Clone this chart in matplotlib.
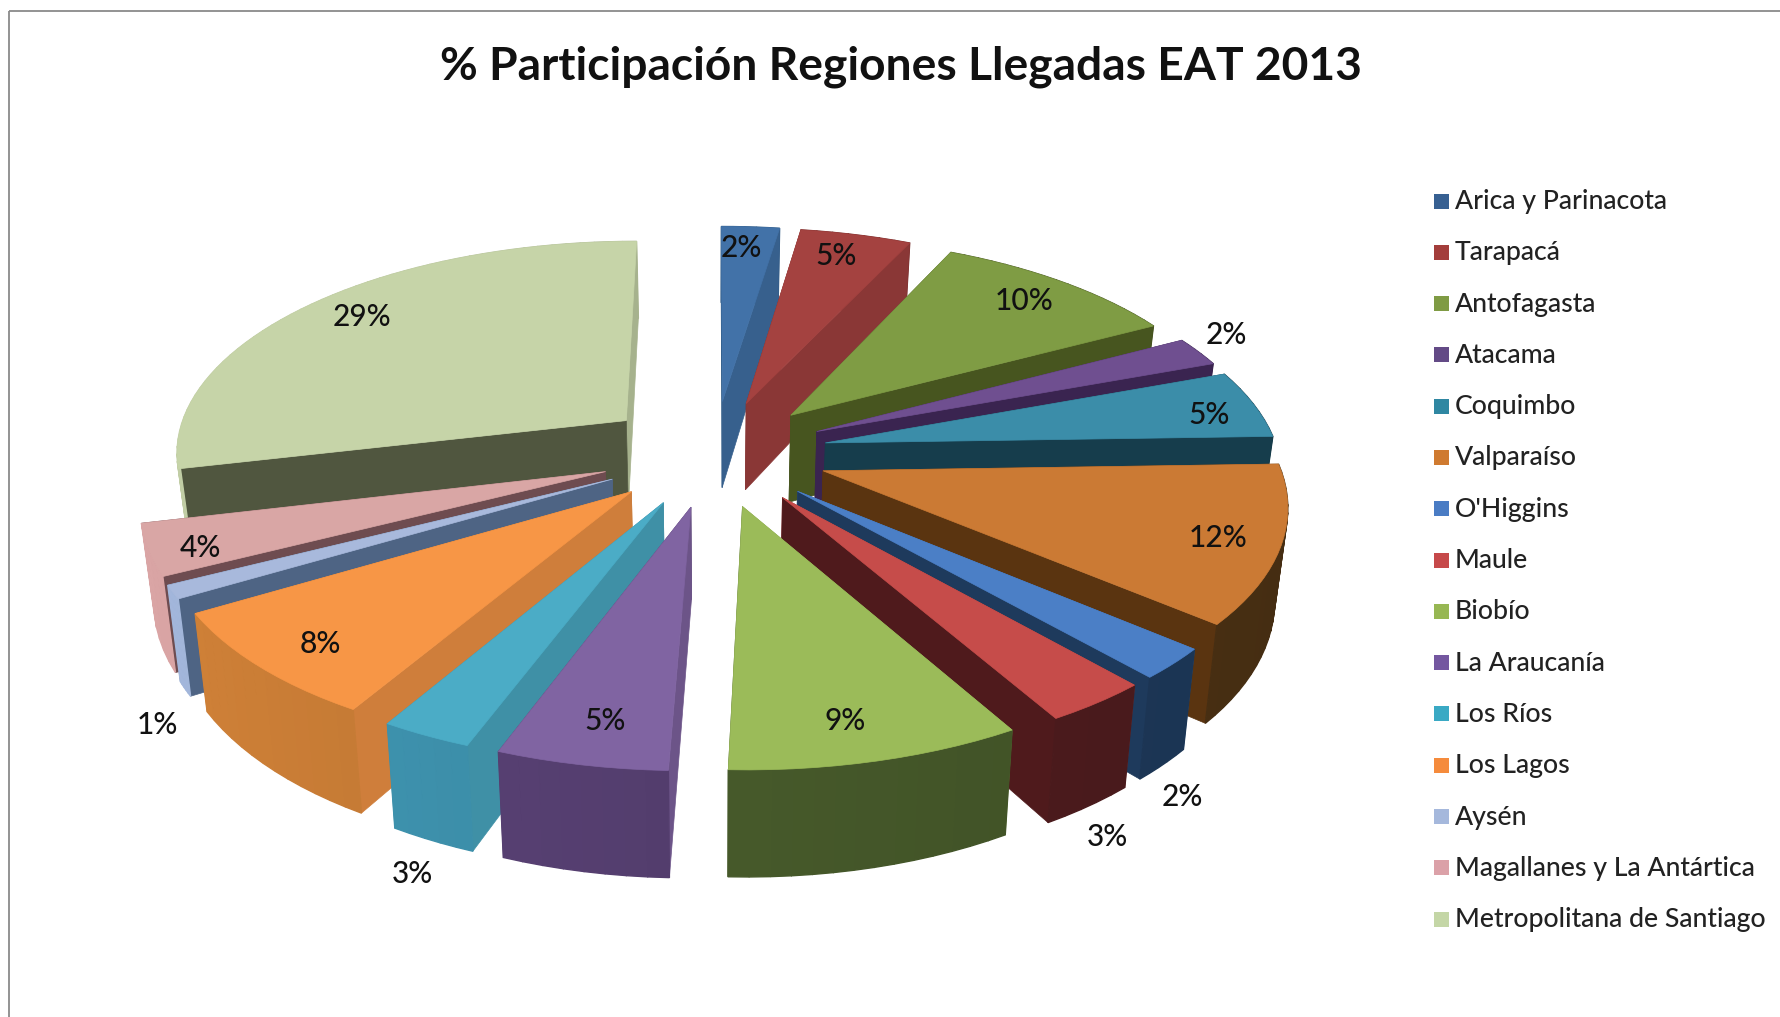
import numpy as np
import matplotlib
matplotlib.use("Agg")
import matplotlib.pyplot as plt
from matplotlib.colors import to_rgb
from matplotlib.patches import Polygon, Rectangle

plt.rcParams['font.family'] = ['Lato', 'DejaVu Sans']

# data
regions = ["Arica y Parinacota", "Tarapacá", "Antofagasta", "Atacama", "Coquimbo",
           "Valparaíso", "O'Higgins", "Maule", "Biobío", "La Araucanía", "Los Ríos",
           "Los Lagos", "Aysén", "Magallanes y La Antártica", "Metropolitana de Santiago"]
shares = [2.4, 4.6, 10.2, 2.2, 5.1, 11.7, 2.3, 3.2, 8.85, 5.15, 2.75, 8.05, 1.0, 3.8, 28.7]

top_colors = ["#4272a8", "#a44240", "#7f9c44", "#6f4f90", "#3b8da9", "#cb7a34", "#4b7fc6", "#c64c4a",
              "#9bbb59", "#8064a2", "#4bacc6", "#f79646", "#a8b9dc", "#d9a6a5", "#c6d4a8"]
dark_colors = ["#2f5a85", "#7a2c2a", "#47551f", "#3a2450", "#163d4c", "#5a3410", "#1e3a5c", "#4f1a1c",
               "#46592a", "#533d6d", "#3a89a3", "#bf7635", "#4e6484", "#6e4c50", "#50563f"]
outer_colors = ["#2f5a85", "#7a2c2a", "#47551f", "#3a2450", "#163d4c", "#4e3314", "#1e3a5c", "#4f1c1e",
                "#46592a", "#533d6d", "#3a89a3", "#bb7432", "#93a5c6", "#c49494", "#adb894"]
legend_colors = ["#376092", "#a33d3b", "#7f9b44", "#634a86", "#2f87a2", "#cf7a30", "#4a7cc4", "#c6494a",
                 "#97b753", "#7457a0", "#3aa9c4", "#f58b3c", "#a5b8dc", "#dba1a8", "#c4d6a6"]
# how far each % label sits from its slice, in pixels
label_offset = [(-3, -19), (5, -18), (26, -12), (121, -36), (62, 1), (56, 12), (111, 180), (97, 191),
                (5, 31), (-7, 29), (-80, 203), (-40, 25), (-132, 163), (-68, 18), (-24, -15)]

# camera for the fake 3d pie
cx, cy = 714, 453
rx, ry = 453, 211.7
persp = 0.1355
explode = 0.252
height = 89
bottom_shrink = 0.977


def project(x3, y3, low=False):
    s = 1 / (1 + persp * y3)
    px = x3 * rx * s
    py = cy - y3 * ry * s
    if low:
        return cx + px * bottom_shrink, py + height * s
    return cx + px, py


fig = plt.figure(figsize=(17.8, 10.17), dpi=100)
ax = fig.add_axes([0, 0, 1, 1])
ax.set_xlim(0, 1780)
ax.set_ylim(1017, 0)
ax.axis('off')

ax.add_patch(Rectangle((9, 11), 1800, 1100, fill=False, edgecolor="#8a8a8a", linewidth=1.3))

fracs = np.array(shares) / sum(shares)
ends = np.cumsum(fracs) * 360
starts = ends - fracs * 360
mids = (starts + ends) / 2


def rim(i, theta):
    t = np.radians(theta)
    m = np.radians(mids[i])
    return np.sin(t) + explode * np.sin(m), np.cos(t) + explode * np.cos(m)


def draw_face(pts, color, z, lw=0.5):
    ax.add_patch(Polygon(pts, closed=True, facecolor=color, edgecolor=color, linewidth=lw, zorder=z))


z = 2.0
order = np.argsort(-np.cos(np.radians(mids)))
for i in order:
    m = np.radians(mids[i])
    tip = (explode * np.sin(m), explode * np.cos(m))
    angles = np.linspace(starts[i], ends[i], max(int((ends[i] - starts[i]) / 2), 6))
    arc = [rim(i, a) for a in angles]

    faces = []
    # straight cut faces
    for theta, normal, p in [(starts[i], starts[i] - 90, arc[0]), (ends[i], ends[i] + 90, arc[-1])]:
        normal = normal % 360
        if normal < 130:
            col = tuple(c * 0.84 for c in to_rgb(top_colors[i]))
        else:
            col = dark_colors[i]
        pts = [project(*tip), project(*p), project(*p, low=True), project(*tip, low=True)]
        faces.append(((tip[1] + p[1]) / 2, pts, col, 0.5))
    # round outer face, slightly brighter towards the left
    base = np.array(to_rgb(outer_colors[i]))
    for a, b, ang in zip(arc[:-1], arc[1:], angles[:-1]):
        pts = [project(*a), project(*b), project(*b, low=True), project(*a, low=True)]
        col = np.clip(base * (1 - 0.12 * np.sin(np.radians(ang))), 0, 1)
        faces.append(((a[1] + b[1]) / 2, pts, tuple(col), 1.0))

    faces.sort(key=lambda f: -f[0])
    for depth, pts, col, lw in faces:
        draw_face(pts, col, z, lw)
        z += 0.001
    draw_face([project(*tip)] + [project(*p) for p in arc], top_colors[i], z)
    z += 0.001

# % labels
for i, share in enumerate(shares):
    t = np.radians(mids[i])
    ax_x, ax_y = project(np.sin(t), np.cos(t))
    dx, dy = label_offset[i]
    ax.text(ax_x + dx, ax_y + dy, f"{round(share)}%", ha='center', va='center', fontsize=21.5,
            fontweight='medium', color="#111111", zorder=50)

ax.text(901, 67, "% Participación Regiones Llegadas EAT 2013", ha='center', va='center',
        fontsize=33.2, fontweight='bold', color="#111111", zorder=50)

# legend
leg_y = 201.5
for name, col in zip(regions, legend_colors):
    ax.add_patch(Rectangle((1434, leg_y - 8), 15, 15, facecolor=col, edgecolor='none', zorder=50))
    ax.text(1455, leg_y, name, ha='left', va='center', fontsize=19.2, fontweight='medium',
            color="#222222", zorder=50)
    leg_y += 51.3

fig.savefig("out.png", dpi=100, facecolor='white')
